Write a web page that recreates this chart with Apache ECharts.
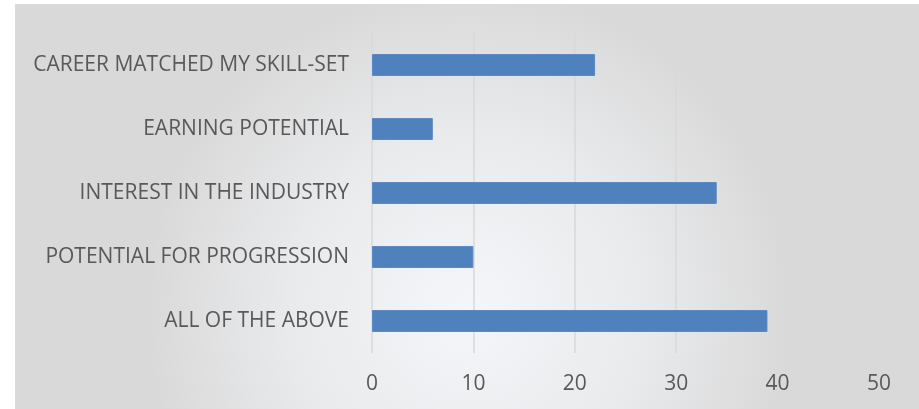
<!DOCTYPE html>
<html>
<head>
<meta charset="utf-8">
<script src="https://cdn.jsdelivr.net/npm/echarts@6/dist/echarts.min.js"></script>
<style>
html,body{margin:0;padding:0;background:#fff;}
#chart{width:919px;height:409px;}
</style>
</head>
<body>
<div id="chart"></div>
<script>
// Reasons for choosing a career (counts of respondents)
const categories = [
  'ALL OF THE ABOVE',
  'POTENTIAL FOR PROGRESSION',
  'INTEREST IN THE INDUSTRY',
  'EARNING POTENTIAL',
  'CAREER MATCHED MY SKILL-SET'
];
const counts = [39, 10, 34, 6, 22];
const xTicks = [0, 10, 20, 30, 40, 50];

const chart = echarts.init(document.getElementById('chart'));
chart.setOption({
  animation: false,
  graphic: [{
    type: 'rect',
    left: 15, top: 4,
    shape: { width: 904, height: 405 },
    style: {
      fill: new echarts.graphic.RadialGradient(0.5, 0.75, 0.8, [
        { offset: 0, color: '#f4f6f9' },
        { offset: 0.55, color: '#e9eaec' },
        { offset: 1, color: '#d9d9d9' }
      ]),
      stroke: '#dadada', lineWidth: 1
    },
    z: -10
  }],
  grid: { left: 372, right: 40, top: 33, bottom: 56, containLabel: false },
  xAxis: {
    type: 'value',
    min: xTicks[0], max: xTicks[xTicks.length - 1], interval: 10,
    axisLine: { show: false },
    axisTick: { show: false },
    splitLine: { show: true, lineStyle: { color: '#d9d9d9', width: 1.5 } },
    axisLabel: {
      margin: 21,
      color: '#595959',
      fontFamily: 'Open Sans, sans-serif',
      fontSize: 21
    }
  },
  yAxis: {
    type: 'category',
    data: categories,
    axisLine: { show: false },
    axisTick: { show: false },
    axisLabel: {
      margin: 23,
      color: '#595959',
      fontFamily: 'Open Sans, sans-serif',
      fontSize: 21
    }
  },
  series: [{
    type: 'bar',
    data: counts,
    barWidth: 22,
    itemStyle: { color: '#4f81bd', borderColor: '#5a8bc6', borderWidth: 1 }
  }]
});
</script>
</body>
</html>
